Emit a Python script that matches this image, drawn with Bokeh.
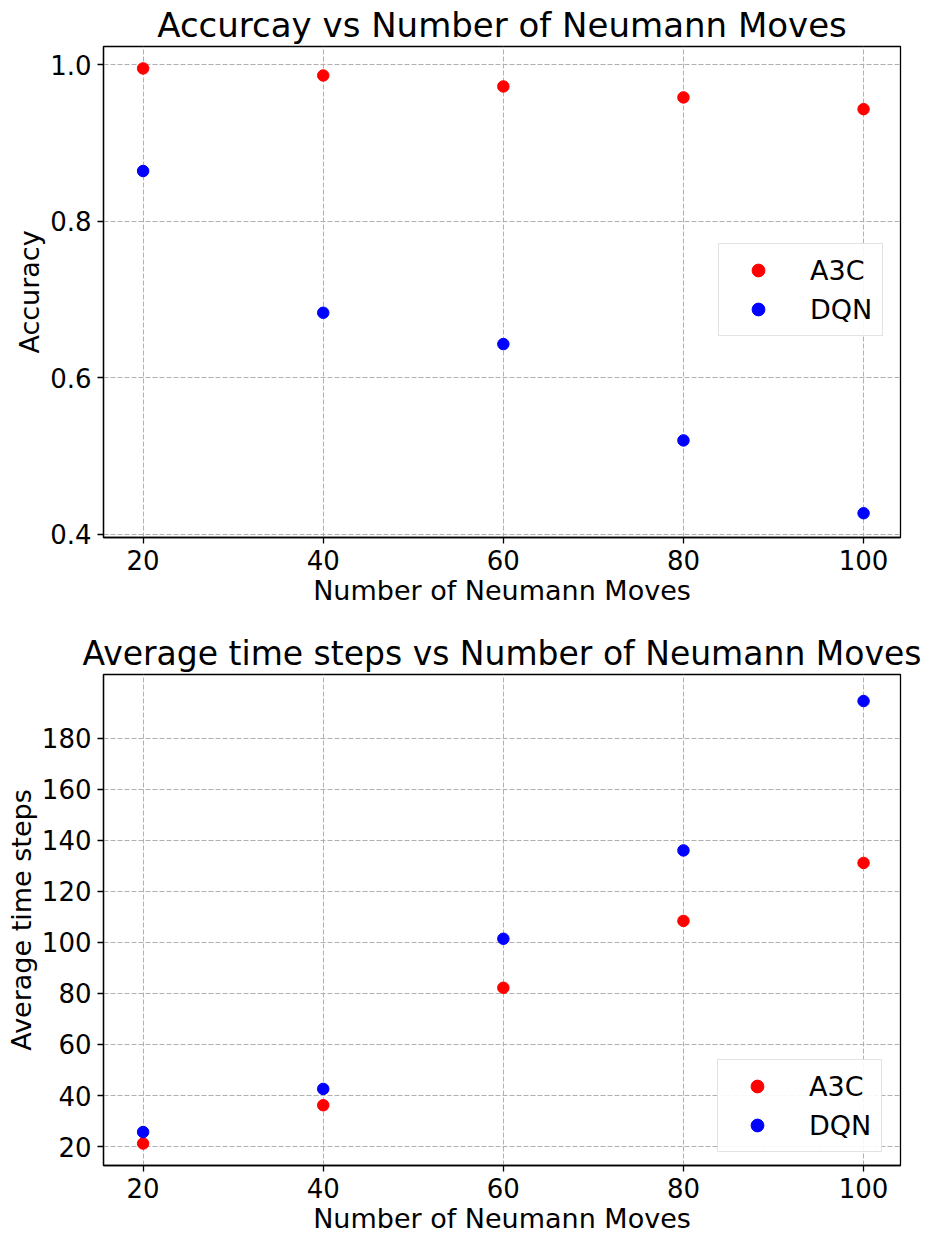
from bokeh.plotting import figure
from bokeh.layouts import column
from bokeh.models import FixedTicker, Legend, LegendItem, Range1d, PrintfTickFormatter
from bokeh.embed import file_html
from bokeh.resources import INLINE

moves = [20, 40, 60, 80, 100]
acc_a3c = [0.995, 0.986, 0.972, 0.958, 0.943]
acc_dqn = [0.864, 0.683, 0.643, 0.520, 0.427]
steps_a3c = [21.2, 36.2, 82.2, 108.4, 131.1]
steps_dqn = [25.7, 42.6, 101.4, 136.0, 194.5]
acc_ticks = [0.4, 0.6, 0.8, 1.0]
steps_ticks = [20, 40, 60, 80, 100, 120, 140, 160, 180]
labels = ["A3C", "DQN"]
colors = ["red", "blue"]

FONT = "DejaVu Sans"


def make_fig(title, title_size, ylabel, ys, yticks, yfmt, yrange, height, b_top, b_bottom, legend_loc):
    p = figure(width=927, height=height, output_backend="svg", toolbar_location=None,
               x_range=Range1d(15.6, 104.1), y_range=Range1d(*yrange),
               min_border_left=103, min_border_right=27,
               min_border_top=b_top, min_border_bottom=b_bottom)
    p.title.text = title
    p.title.text_font = FONT
    p.title.text_font_size = title_size
    p.title.text_font_style = "normal"
    p.title.text_color = "black"
    p.title.align = "center"
    p.title.standoff = 4
    p.title.offset = 0

    rends = []
    for y, c in zip(ys, colors):
        r = p.scatter(moves, y, size=11.5, color=c, line_color=c)
        rends.append(r)

    for ax in (p.xaxis[0], p.yaxis[0]):
        ax.major_label_text_font = FONT
        ax.major_label_text_font_size = "26px"
        ax.major_label_text_color = "black"
        ax.axis_label_text_font = FONT
        ax.axis_label_text_font_size = "27px"
        ax.axis_label_text_font_style = "normal"
        ax.axis_label_text_color = "black"
        ax.major_tick_out = 6
        ax.major_tick_in = 0
        ax.minor_tick_out = 0
        ax.minor_tick_in = 0
        ax.axis_line_color = "black"
        ax.major_tick_line_color = "black"
        ax.axis_line_width = 1.3
        ax.major_tick_line_width = 1.3
        ax.major_label_standoff = 6
        ax.axis_label_standoff = 2
    p.xaxis.ticker = FixedTicker(ticks=moves)
    p.yaxis.ticker = FixedTicker(ticks=yticks)
    p.yaxis.formatter = PrintfTickFormatter(format=yfmt)
    p.xaxis.axis_label = "Number of Neumann Moves"
    p.yaxis.axis_label = ylabel

    p.grid.grid_line_color = "#b0b0b0"
    p.grid.grid_line_dash = "5 2"
    p.grid.grid_line_width = 1
    p.outline_line_color = "black"
    p.outline_line_width = 1.3
    p.outline_line_alpha = 1

    items = [LegendItem(label=l, renderers=[r]) for l, r in zip(labels, rends)]
    leg = Legend(items=items, location=legend_loc)
    leg.label_text_font = FONT
    leg.label_text_font_size = "27px"
    leg.label_text_color = "black"
    leg.glyph_width = 58
    leg.glyph_height = 32
    leg.label_height = 32
    leg.label_standoff = 23
    leg.spacing = 7
    leg.padding = 10
    leg.margin = 0
    leg.border_line_color = "#c8c8c8"
    leg.border_line_width = 1.5
    leg.background_fill_alpha = 0.9
    p.add_layout(leg, "center")
    return p


p1 = make_fig("Accurcay vs Number of Neumann Moves", "34px", "Accuracy", [acc_a3c, acc_dqn],
              acc_ticks, "%.1f", (0.396, 1.023), 610, 44, 73, (615, 201))
p2 = make_fig("Average time steps vs Number of Neumann Moves", "33px", "Average time steps",
              [steps_a3c, steps_dqn], steps_ticks, "%d", (12.6, 204.9), 628, 64, 73, (614, 13))

layout = column(p1, p2, spacing=0)
open("out.html", "w").write(file_html(layout, INLINE))
